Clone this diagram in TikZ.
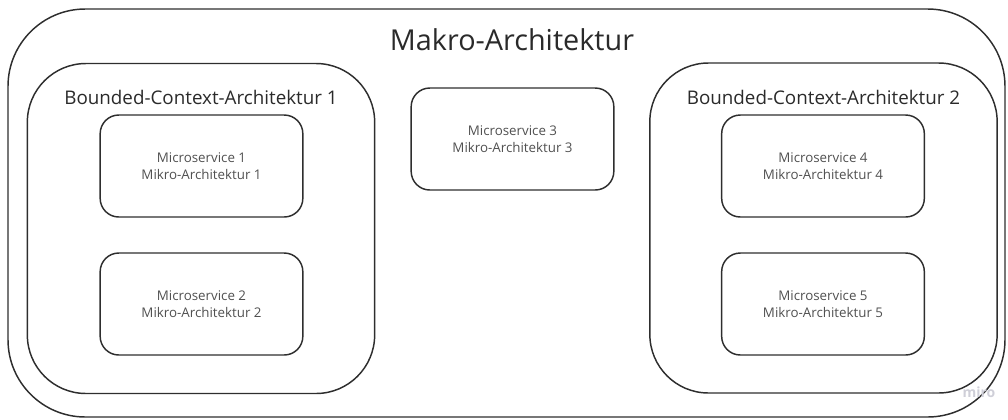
\documentclass[tikz,border=0pt]{standalone}
\usepackage{fontspec}
\setmainfont{Open Sans}
\definecolor{edge}{HTML}{2E2E2E}
\definecolor{label}{HTML}{2A2A2A}
\definecolor{small}{HTML}{505050}
\definecolor{mark}{HTML}{CFCFD8}
\tikzset{
  x=0.75pt, y=-0.75pt,
  frame/.style={draw=edge, line width=1.1pt, fill=none, inner sep=0pt},
  outerbox/.style={frame, rounded corners=58pt, minimum width=747.75pt, minimum height=306pt},
  contextbox/.style={frame, rounded corners=44pt, minimum width=260.5pt, minimum height=247.5pt},
  servicebox/.style={frame, rounded corners=14pt, minimum width=152pt, minimum height=76.5pt,
    align=center, text=small, font=\fontsize{10}{13}\selectfont},
  title/.style={text=label, inner sep=0pt},
}
\begin{document}
\begin{tikzpicture}
\useasboundingbox (0,0) rectangle (1008,419);
% macro level frame
\node[outerbox] (makro) at (506.5,213) {};
\node[title, font=\fontsize{21.6}{25}\selectfont] (makrotitle) at (512,40) {Makro-Architektur};
% bounded contexts
\node[contextbox] (bc1) at (201,228.5) {};
\node[title, font=\fontsize{14.1}{17}\selectfont] (bc1title) at (201,97) {Bounded-Context-Architektur 1};
\node[contextbox] (bc2) at (823.5,228) {};
\node[title, font=\fontsize{14.1}{17}\selectfont] (bc2title) at (823.5,97) {Bounded-Context-Architektur 2};
% microservices
\node[servicebox] (ms1) at (201.5,166) {Microservice 1\\Mikro-Architektur 1};
\node[servicebox] (ms2) at (201.5,304) {Microservice 2\\Mikro-Architektur 2};
\node[servicebox] (ms3) at (512.5,139) {Microservice 3\\Mikro-Architektur 3};
\node[servicebox] (ms4) at (823,166) {Microservice 4\\Mikro-Architektur 4};
\node[servicebox] (ms5) at (823,304) {Microservice 5\\Mikro-Architektur 5};
% watermark
\node[text=mark, inner sep=0pt, font=\fontsize{10.5}{12}\selectfont\bfseries] (wm) at (979,392) {miro};
\end{tikzpicture}
\end{document}
